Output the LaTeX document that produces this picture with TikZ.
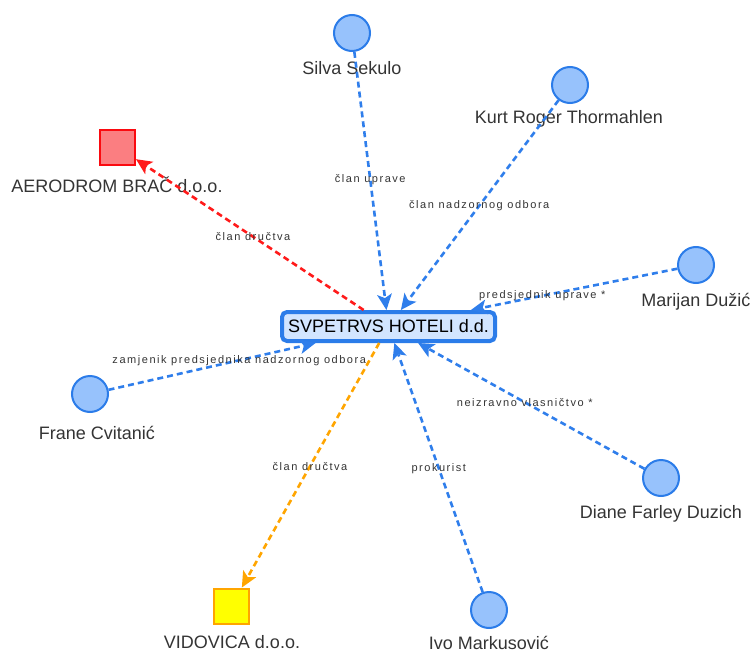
\documentclass[tikz,border=0pt]{standalone}
\usepackage{fontspec}
\setmainfont{Liberation Sans}
\newfontfamily\lblfont[LetterSpace=14]{Liberation Sans}
\usetikzlibrary{arrows.meta,calc}
\definecolor{nodeblue}{HTML}{97C2FC}
\definecolor{borderblue}{HTML}{2B7CE9}
\definecolor{edgeblue}{HTML}{2F7EEB}
\definecolor{hubfill}{HTML}{D2E5FF}
\definecolor{redfill}{HTML}{FB7E81}
\definecolor{redborder}{HTML}{FA0A10}
\definecolor{rededge}{HTML}{FF1A1A}
\definecolor{yellowfill}{HTML}{FFFF00}
\definecolor{orangeborder}{HTML}{FFA500}
\definecolor{txt}{HTML}{343434}
\tikzset{bigtip/.tip={Stealth[length=16pt,width=15pt,inset=4pt,line width=0pt]}}
\begin{document}
\begin{tikzpicture}[x=1pt,y=-1pt,
  person/.style={circle, draw=borderblue, fill=nodeblue, line width=2pt, minimum size=36pt, inner sep=0pt},
  company/.style={rectangle, line width=2pt, minimum size=35pt, inner sep=0pt},
  hubbox/.style={rectangle, rounded corners=5pt, draw=borderblue, fill=hubfill, line width=4pt,
                 minimum width=213pt, minimum height=29pt, inner sep=0pt,
                 font=\fontsize{18}{20}\selectfont, text=black},
  nlabel/.style={font=\fontsize{18}{20}\selectfont, text=txt, inner sep=0pt},
  elabel/.style={font=\lblfont\fontsize{11}{12}\selectfont, text=txt, inner sep=1pt},
  linkline/.style={line width=2.6pt, dash pattern=on 6pt off 4pt, arrows={-bigtip}}
]
\useasboundingbox (0,0) rectangle (753,653);

% nodes
\node[hubbox] (hub) at (388.5,326.5) {SVPETRVS HOTELI d.d.};
\node[person] (silva) at (352,33) {};
\node[person] (kurt) at (570,85) {};
\node[person] (marijan) at (696,265) {};
\node[person] (frane) at (90,394) {};
\node[person] (diane) at (661,478) {};
\node[person] (ivo) at (489,610) {};
\node[company, draw=redborder, fill=redfill] (aero) at (117.5,147) {};
\node[company, draw=orangeborder, fill=yellowfill] (vido) at (231.5,606) {};

% names
\node[nlabel] (silvaL) at (352,68) {Silva Sekulo};
\node[nlabel] (kurtL) at (569,119) {Kurt Roger Thormahlen};
\node[nlabel] (marijanL) at (696,302) {Marijan Dužić};
\node[nlabel] (franeL) at (97,433) {Frane Cvitanić};
\node[nlabel] (dianeL) at (661,514) {Diane Farley Duzich};
\node[nlabel] (ivoL) at (489,643) {Ivo Markusović};
\node[nlabel] (aeroL) at (117,185) {AERODROM BRAČ d.o.o.};
\node[nlabel] (vidoL) at (232,642) {VIDOVICA d.o.o.};

% connectors
\draw[linkline, edgeblue] (silva) -- (hub);
\draw[linkline, edgeblue] (kurt) -- (hub);
\draw[linkline, edgeblue] (marijan) -- (hub);
\draw[linkline, edgeblue] (frane) -- (hub);
\draw[linkline, edgeblue] (diane) -- (hub);
\draw[linkline, edgeblue] (ivo) -- (hub);
\draw[linkline, rededge] (hub) -- (aero);
\draw[linkline, orangeborder] (hub) -- (vido);

% connector labels
\node[elabel] (e1) at ($(silva)!0.5!(hub)$) {član uprave};
\node[elabel] (e2) at ($(kurt)!0.5!(hub)$) {član nadzornog odbora};
\node[elabel] (e3) at ($(marijan)!0.5!(hub)$) {predsjednik uprave *};
\node[elabel] (e4) at ($(frane)!0.5!(hub)$) {zamjenik predsjednika nadzornog odbora};
\node[elabel] (e5) at ($(diane)!0.5!(hub)$) {neizravno vlasničtvo *};
\node[elabel] (e6) at ($(ivo)!0.5!(hub)$) {prokurist};
\node[elabel] (e7) at ($(hub)!0.5!(aero)$) {član dručtva};
\node[elabel] (e8) at ($(hub)!0.5!(vido)$) {član dručtva};
\end{tikzpicture}
\end{document}
